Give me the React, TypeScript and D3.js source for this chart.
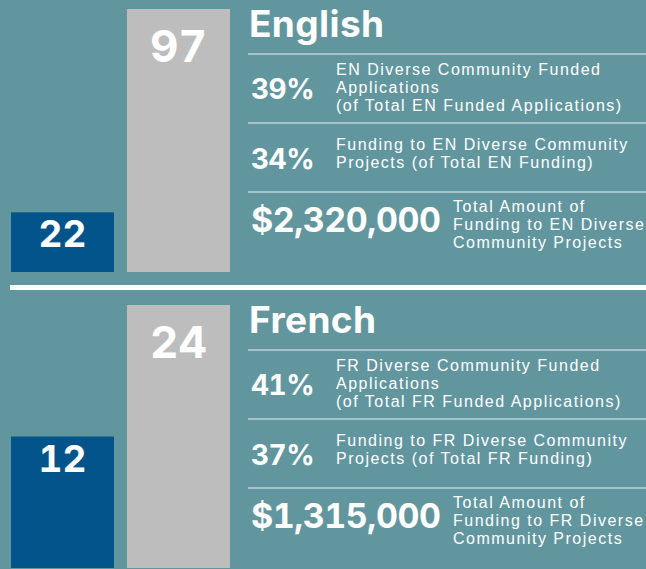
import React, { useEffect, useRef } from "react";
import * as d3 from "d3";

const languages = ["English", "French"];
const langCodes = ["EN", "FR"];
const diverseFunded = [22, 12];
const totalFunded = [97, 24];
const appShare = [39, 41];
const fundingShare = [34, 37];
const diverseAmount = [2320000, 1315000];

const W = 646;
const H = 569;
const PANEL = 296;
const BG = "#62969f";
const BLUE = "#02548a";
const GRAY = "#bdbdbd";
const RULE = "#bdd3d7";
const NUM_FONT = "Inter, 'Open Sans', sans-serif";
const TXT_FONT = "'Liberation Sans', Arial, sans-serif";

const App = () => {
  const svgRef = useRef<SVGSVGElement>(null);

  useEffect(() => {
    const svg = d3.select(svgRef.current);
    svg.selectAll("*").remove();

    svg.append("rect").attr("width", W).attr("height", H).attr("fill", BG);

    const xScale = d3
      .scaleBand()
      .domain(["diverse", "total"])
      .range([11, 230])
      .paddingInner(0.112);

    const money = d3.format("$,.0f");

    languages.forEach((lang, i) => {
      const g = svg.append("g").attr("transform", `translate(0, ${i * PANEL})`);

      const yScale = d3
        .scaleLinear()
        .domain([0, totalFunded[i]])
        .range([272, 9]);

      const bars = [
        { key: "diverse", value: diverseFunded[i], color: BLUE, size: 37, off: 35 },
        { key: "total", value: totalFunded[i], color: GRAY, size: 44, off: 53 },
      ];

      g.selectAll(".bar")
        .data(bars)
        .enter()
        .append("rect")
        .attr("class", "bar")
        .attr("x", (d) => xScale(d.key)!)
        .attr("y", (d) => yScale(d.value))
        .attr("width", xScale.bandwidth())
        .attr("height", (d) => yScale(0) - yScale(d.value))
        .attr("fill", (d) => d.color);

      g.selectAll(".val")
        .data(bars)
        .enter()
        .append("text")
        .attr("class", "val")
        .attr("x", (d) => xScale(d.key)! + xScale.bandwidth() / 2)
        .attr("y", (d) => yScale(d.value) + d.off)
        .attr("text-anchor", "middle")
        .attr("fill", "#fff")
        .attr("font-family", NUM_FONT)
        .attr("font-weight", 700)
        .attr("font-size", (d) => d.size)
        .style("font-feature-settings", "'tnum' 1")
        .text((d) => d.value);

      // title
      g.append("text")
        .attr("x", 249)
        .attr("y", 37)
        .attr("fill", "#fff")
        .attr("font-family", NUM_FONT)
        .attr("font-weight", 700)
        .attr("font-size", 37)
        .attr("letter-spacing", 0.4)
        .text(lang);

      // thin rules
      [54, 123, 192].forEach((y) => {
        g.append("line")
          .attr("x1", 248)
          .attr("x2", W)
          .attr("y1", y)
          .attr("y2", y)
          .attr("stroke", RULE)
          .attr("stroke-width", 1.5);
      });

      const code = langCodes[i];
      const rows = [
        {
          big: `${appShare[i]}%`,
          bigY: 99,
          bigSize: 28,
          tx: 336,
          lines: [
            `${code} Diverse Community Funded`,
            "Applications",
            `(of Total ${code} Funded Applications)`,
          ],
          ty: 75,
        },
        {
          big: `${fundingShare[i]}%`,
          bigY: 169,
          bigSize: 28,
          tx: 336,
          lines: [
            `Funding to ${code} Diverse Community`,
            `Projects (of Total ${code} Funding)`,
          ],
          ty: 150,
        },
        {
          big: money(diverseAmount[i]),
          bigY: 232,
          bigSize: 34,
          tx: 453,
          lines: [
            "Total Amount of",
            `Funding to ${code} Diverse`,
            "Community Projects",
          ],
          ty: 212,
        },
      ];

      rows.forEach((r) => {
        g.append("text")
          .attr("x", 251)
          .attr("y", r.bigY)
          .attr("fill", "#fff")
          .attr("font-family", NUM_FONT)
          .attr("font-weight", 700)
          .attr("font-size", r.bigSize)
          .attr("letter-spacing", -0.5)
          .style("font-feature-settings", "'tnum' 1")
          .text(r.big);

        r.lines.forEach((line, k) => {
          g.append("text")
            .attr("x", r.tx)
            .attr("y", r.ty + k * 18)
            .attr("fill", "#fff")
            .attr("font-family", TXT_FONT)
            .attr("font-size", 16)
            .attr("letter-spacing", 1.5)
            .text(line);
        });
      });
    });

    // white separator between panels
    svg
      .append("rect")
      .attr("x", 10)
      .attr("y", 285)
      .attr("width", W - 10)
      .attr("height", 5)
      .attr("fill", "#fff");
  }, []);

  return (
    <svg
      ref={svgRef}
      width={W}
      height={H}
      style={{ position: "absolute", left: 0, top: 0, display: "block" }}
    ></svg>
  );
};

export default App;
